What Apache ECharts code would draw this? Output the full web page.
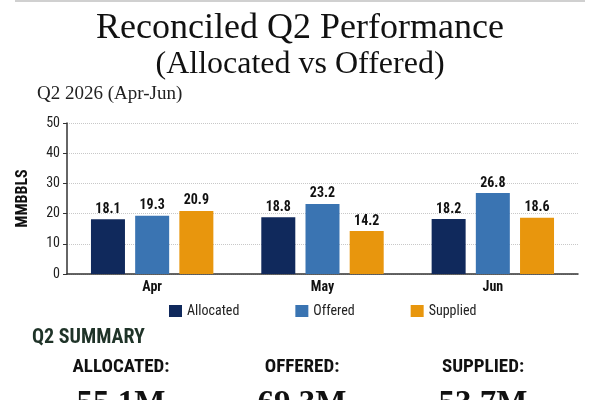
<!DOCTYPE html>
<html>
<head>
<meta charset="utf-8">
<script src="https://cdn.jsdelivr.net/npm/echarts@6/dist/echarts.min.js"></script>
<style>html,body{margin:0;padding:0;background:#fff}#c{width:600px;height:400px}</style>
</head>
<body>
<div id="c"></div>
<script>
var categories = ['Apr', 'May', 'Jun'];
var allocated = [18.1, 18.8, 18.2];
var offered = [19.3, 23.2, 26.8];
var supplied = [20.9, 14.2, 18.6];
var seriesNames = ['Allocated', 'Offered', 'Supplied'];
var yTicks = [0, 10, 20, 30, 40, 50];
var summaryLabels = ['ALLOCATED:', 'OFFERED:', 'SUPPLIED:'];
var summaryValues = ['55.1M', '69.3M', '53.7M'];

var colors = ['#10295c', '#3a74b2', '#e8960d'];
var serif = "'Liberation Serif', 'Times New Roman', serif";
var cond = "'Roboto Condensed', 'Liberation Sans Narrow', Roboto, sans-serif";

var chart = echarts.init(document.getElementById('c'));
var labelStyle = {show: true, position: 'top', distance: 3, fontFamily: cond, fontWeight: 'bold', fontSize: 14, color: '#111'};
var summaryX = [121, 302, 483];
var graphics = [
  {type: 'line', shape: {x1: 15, y1: 1, x2: 585, y2: 1}, style: {stroke: '#d0d0d0', lineWidth: 2}},
  {type: 'text', left: 32, top: 328, style: {text: 'Q2 SUMMARY', fontFamily: cond, fontWeight: 'bold', fontSize: 20, fill: '#1f3328'}}
];
summaryLabels.forEach(function (t, i) {
  graphics.push({type: 'text', x: summaryX[i], y: 367, style: {text: t, textAlign: 'center', textVerticalAlign: 'middle', fontFamily: cond, fontWeight: 'bold', fontSize: 19, fill: '#111'}});
  graphics.push({type: 'text', x: summaryX[i], y: 404, style: {text: summaryValues[i], textAlign: 'center', textVerticalAlign: 'middle', fontFamily: serif, fontWeight: 'bold', fontSize: 33, fill: '#111'}});
});

chart.setOption({
  animation: false,
  backgroundColor: '#ffffff',
  color: colors,
  title: [
    {text: 'Reconciled Q2 Performance', left: 'center', top: 6, textStyle: {fontFamily: serif, fontWeight: 'normal', fontSize: 36, color: '#111'}},
    {text: '(Allocated vs Offered)', left: 'center', top: 44, textStyle: {fontFamily: serif, fontWeight: 'normal', fontSize: 32, color: '#111'}},
    {text: 'Q2 2026 (Apr-Jun)', left: 32, top: 80, textStyle: {fontFamily: serif, fontWeight: 'normal', fontSize: 19, color: '#222'}}
  ],
  legend: {
    data: seriesNames, left: 164, top: 299, itemWidth: 13, itemHeight: 12, itemGap: 56, icon: 'rect',
    textStyle: {fontFamily: cond, fontSize: 14, color: '#222'}
  },
  grid: {left: 67, right: 22, top: 123, bottom: 126, containLabel: false},
  xAxis: {
    type: 'category', data: categories,
    axisLine: {lineStyle: {color: '#333', width: 1.5}},
    axisTick: {show: false},
    axisLabel: {fontFamily: cond, fontWeight: 'bold', fontSize: 14, color: '#111', margin: 6}
  },
  yAxis: {
    type: 'value', min: yTicks[0], max: yTicks[yTicks.length - 1], interval: 10,
    name: 'MMBBLS', nameLocation: 'middle', nameRotate: 90, nameGap: 36,
    nameTextStyle: {fontFamily: cond, fontWeight: 'bold', fontSize: 16, color: '#111'},
    axisLine: {show: true, lineStyle: {color: '#333', width: 1.5}},
    axisTick: {show: true, length: 4, lineStyle: {color: '#333'}},
    axisLabel: {fontFamily: cond, fontSize: 14, color: '#222', margin: 7},
    splitLine: {lineStyle: {type: 'dotted', color: '#c8c8c8', width: 1}}
  },
  series: [
    {name: seriesNames[0], type: 'bar', data: allocated, barWidth: 34, barGap: '30%', label: labelStyle},
    {name: seriesNames[1], type: 'bar', data: offered, barWidth: 34, barGap: '30%', label: labelStyle},
    {name: seriesNames[2], type: 'bar', data: supplied, barWidth: 34, barGap: '30%', label: labelStyle}
  ],
  graphic: graphics
});
</script>
</body>
</html>
